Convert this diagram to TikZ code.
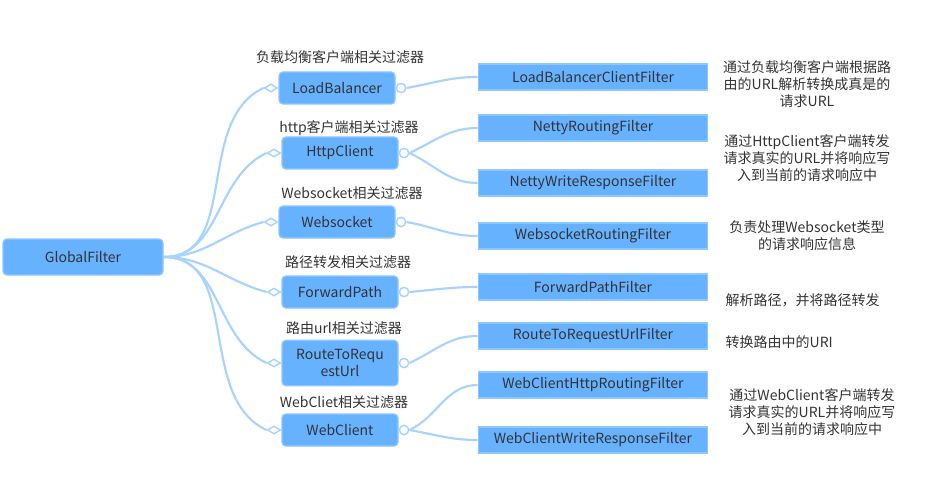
\documentclass[tikz,border=0pt]{standalone}
\usepackage{fontspec}
\setmainfont{Noto Sans CJK SC}
\usepackage{tikz}
\usetikzlibrary{positioning,shapes.geometric}
\definecolor{boxblue}{HTML}{66B2FF}
\definecolor{boxedge}{HTML}{8EC6FF}
\definecolor{linkblue}{HTML}{A8D3FF}
\definecolor{txtgray}{HTML}{333333}

\begin{document}
\begin{tikzpicture}[x=0.75pt,y=-0.75pt,
  font=\fontsize{10.5}{12.75}\selectfont,text=txtgray,
  root/.style={draw=boxedge,line width=1pt,fill=boxblue,rounded corners=3pt,minimum width=120pt,minimum height=27pt},
  group/.style={draw=boxedge,line width=1pt,fill=boxblue,rounded corners=3pt,minimum width=87pt,minimum height=24pt,align=center},
  leaf/.style={draw=boxedge,line width=1pt,fill=boxblue,minimum width=172pt,minimum height=19.5pt},
  tip/.style={draw=linkblue,line width=1.1pt,fill=white,shape=diamond,inner sep=0pt,minimum width=10pt,minimum height=6pt},
  knob/.style={draw=linkblue,line width=1.1pt,fill=white,circle,inner sep=0pt,minimum size=7pt},
  link/.style={draw=linkblue,line width=1.6pt},
  note/.style={align=center}]
\useasboundingbox (0,0) rectangle (933,478);

\node[root] (gf) at (83,257) {GlobalFilter};

\node[group] (lb) at (337,88) {LoadBalancer};
\node[group] (hc) at (340,153) {HttpClient};
\node[group] (ws) at (337,222) {Websocket};
\node[group] (fp) at (340,292) {ForwardPath};
\node[group,minimum height=34pt] (rt) at (340,363) {RouteToRequ\\estUrl};
\node[group] (wc) at (340,430) {WebClient};

\node (lb-t) at (340,57) {负载均衡客户端相关过滤器};
\node (hc-t) at (349,128) {http客户端相关过滤器};
\node (ws-t) at (352,193) {Websocket相关过滤器};
\node (fp-t) at (348,262) {路径转发相关过滤器};
\node (rt-t) at (344,328) {路由url相关过滤器};
\node (wc-t) at (344,402) {WebCliet相关过滤器};

\foreach \m/\i in {lb/205,hc/205,ws/195,fp/165,rt/155,wc/155} {
\node[tip,left=0pt of \m] (\m-d) {};
\node[knob,right=0pt of \m] (\m-k) {};
\draw[link] (gf.east) to[out=0,in=\i] (\m-d.west);
}

\node[leaf] (lbc) at (593,77) {LoadBalancerClientFilter};
\node[leaf] (nrf) at (593,128) {NettyRoutingFilter};
\node[leaf] (nwr) at (593,183) {NettyWriteResponseFilter};
\node[leaf] (wsr) at (593,236) {WebsocketRoutingFilter};
\node[leaf] (fpf) at (593,287) {ForwardPathFilter};
\node[leaf] (rtu) at (593,336) {RouteToRequestUrlFilter};
\node[leaf] (whr) at (593,385) {WebClientHttpRoutingFilter};
\node[leaf] (wwr) at (593,440) {WebClientWriteResponseFilter};

\foreach \a/\b/\o in {lb/lbc/10,hc/nrf/25,hc/nwr/-25,ws/wsr/-10,fp/fpf/5,rt/rtu/25,wc/whr/25,wc/wwr/-10}
\draw[link] (\a-k.east) to[out=\o,in=180] (\b.west);

\node[note] (n1) at (807,84) {通过负载均衡客户端根据路\\由的URL解析转换成真是的\\请求URL};
\node[note] (n2) at (807,158) {通过HttpClient客户端转发\\请求真实的URL并将响应写\\入到当前的请求响应中};
\node[note] (n3) at (807,236) {负责处理Websocket类型\\的请求响应信息};
\node[anchor=west] (n4) at (721,300) {解析路径，并将路径转发};
\node[anchor=west] (n5) at (721,342) {转换路由中的URI};
\node[note] (n6) at (812,412) {通过WebClient客户端转发\\请求真实的URL并将响应写\\入到当前的请求响应中};
\end{tikzpicture}
\end{document}
